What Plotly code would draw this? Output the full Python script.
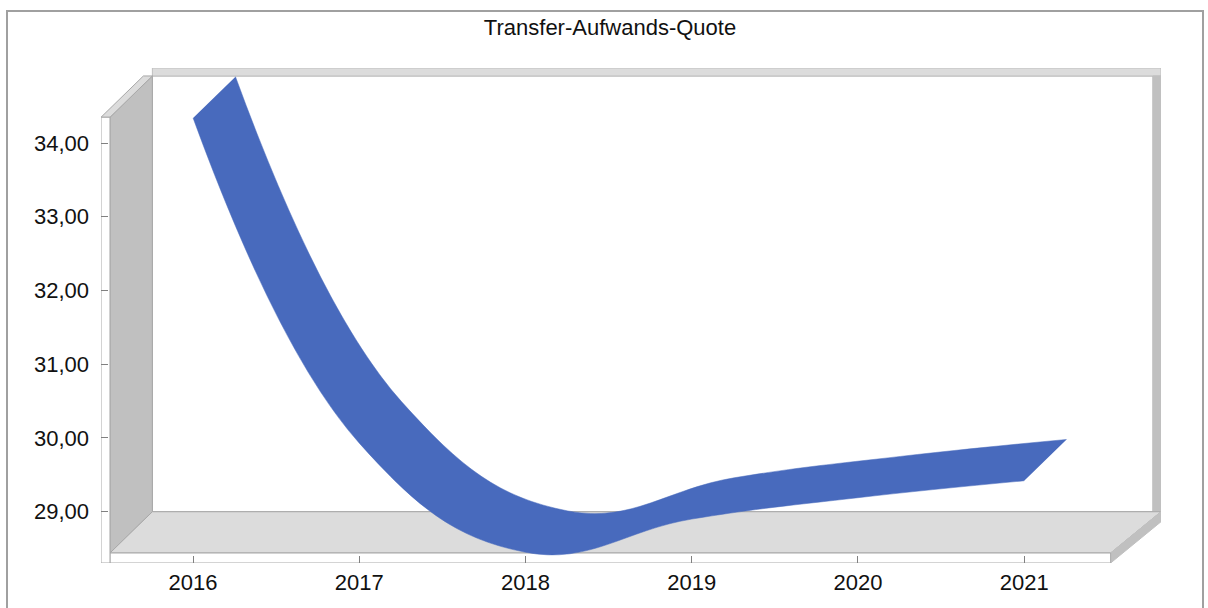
import plotly.graph_objects as go

# ---- data ----
years = [2016, 2017, 2018, 2019, 2020, 2021]
values = [34.34, 29.93, 28.45, 28.90, 29.19, 29.42]
y_ticks = [29, 30, 31, 32, 33, 34]
title_text = "Transfer-Aufwands-Quote"

# ---- pseudo-3D geometry (data units) ----
X0, X1 = 2015.5, 2021.52      # front box x extent
Y0, Y1 = 28.44, 34.35         # front box y extent
DX, DY = 0.255, 0.56          # depth offset
TX, TY = 0.054, 0.1355        # wall / floor thickness
RT, TB = 0.048, 0.108         # back wall thickness (right / top)

xr = [X0 - TX, X1 + DX + RT]
yr = [Y0 - TY, Y1 + DY + TB]

W, H = 1208, 608
# plot area in target-pixel coordinates
PL, PR, PT, PB = 101, 1161, 68, 563
L, T = PL, PT
R, B = W - PR, H - PB
PW, PH = PR - PL, PB - PT

BLUE = "#486ABD"
LINE = "#A8A8A8"
DARK = "#C0C0C0"
LIGHT = "#DCDCDC"


def poly(pts):
    return "M " + " L ".join(f"{x},{y}" for x, y in pts) + " Z"


shapes = []
# back wall
shapes.append(dict(type="rect", x0=X0 + DX, y0=Y0 + DY, x1=X1 + DX, y1=Y1 + DY,
                   fillcolor="white", line=dict(color=LINE, width=1)))
# back wall top strip
shapes.append(dict(type="rect", x0=X0 + DX, y0=Y1 + DY, x1=X1 + DX + RT, y1=Y1 + DY + TB,
                   fillcolor=LIGHT, line=dict(color=DARK, width=1)))
# back wall right strip
shapes.append(dict(type="rect", x0=X1 + DX, y0=Y0 + DY, x1=X1 + DX + RT, y1=Y1 + DY,
                   fillcolor=DARK, line=dict(color=DARK, width=1)))
# left wall inner face
shapes.append(dict(type="path", path=poly([(X0, Y0), (X0, Y1), (X0 + DX, Y1 + DY), (X0 + DX, Y0 + DY)]),
                   fillcolor=DARK, line=dict(color=LINE, width=1)))
# floor top face
shapes.append(dict(type="path", path=poly([(X0, Y0), (X0 + DX, Y0 + DY), (X1 + DX + RT, Y0 + DY), (X1, Y0)]),
                   fillcolor=LIGHT, line=dict(color=LINE, width=1)))
# floor right face
shapes.append(dict(type="path", path=poly([(X1, Y0 - TY), (X1, Y0), (X1 + DX + RT, Y0 + DY), (X1 + DX + RT, Y0 + DY - TY)]),
                   fillcolor=DARK, line=dict(color=DARK, width=1)))
# floor front face
shapes.append(dict(type="rect", x0=X0, y0=Y0 - TY, x1=X1, y1=Y0,
                   fillcolor="white", line=dict(color=LINE, width=1)))
# left wall top face
shapes.append(dict(type="path", path=poly([(X0 - TX, Y1), (X0, Y1), (X0 + DX, Y1 + DY), (X0 + DX - TX, Y1 + DY)]),
                   fillcolor=LIGHT, line=dict(color=LINE, width=1)))
# left wall front face
shapes.append(dict(type="rect", x0=X0 - TX, y0=Y0 - TY, x1=X0, y1=Y1,
                   fillcolor="white", line=dict(color=LINE, width=1)))
for s in shapes:
    s.update(xref="x", yref="y", layer="below")


# outer chart border (paper coords from target pixels)
def px2paper_x(px):
    return (px - PL) / PW


def px2paper_y(py):
    return 1 - (py - PT) / PH


shapes.append(dict(type="rect", xref="paper", yref="paper",
                   x0=px2paper_x(7), x1=px2paper_x(1203), y0=px2paper_y(630), y1=px2paper_y(11),
                   line=dict(color="#A0A0A0", width=2), fillcolor="rgba(0,0,0,0)", layer="below"))

fig = go.Figure()
fig.add_trace(go.Scatter(x=years, y=values, mode="lines",
                         line=dict(color=BLUE, width=0.5, shape="spline", smoothing=1.2),
                         hoverinfo="skip", showlegend=False, cliponaxis=False))
fig.add_trace(go.Scatter(x=[v + DX for v in years], y=[v + DY for v in values], mode="lines",
                         line=dict(color=BLUE, width=0.5, shape="spline", smoothing=1.2),
                         fill="tonexty", fillcolor=BLUE,
                         hoverinfo="skip", showlegend=False, cliponaxis=False))

font_family = "Liberation Sans, Arial, sans-serif"
TXT = "#111111"
fig.update_layout(
    width=W, height=H,
    margin=dict(l=L, r=R, t=T, b=B),
    paper_bgcolor="white", plot_bgcolor="white",
    separators=",.",
    shapes=shapes,
    title=dict(text=title_text, x=610 / W, xref="container", xanchor="center",
               y=1 - 27 / H, yref="container", yanchor="middle",
               font=dict(family=font_family, size=22, color=TXT)),
    xaxis=dict(range=xr, tickvals=years, ticks="inside", ticklen=7, tickcolor="#808080",
               showgrid=False, zeroline=False, showline=False, fixedrange=True,
               ticklabelstandoff=4,
               tickfont=dict(family=font_family, size=22, color=TXT)),
    yaxis=dict(range=yr, tickvals=y_ticks, tickformat=".2f", ticks="inside", ticklen=7,
               tickcolor="#808080", showgrid=False, zeroline=False, showline=False, fixedrange=True,
               ticklabelstandoff=11,
               tickfont=dict(family=font_family, size=22, color=TXT)),
)

fig.write_html("out.html",
               config=dict(displayModeBar=False, staticPlot=True),
               post_script="document.body.style.margin='0';document.body.style.overflow='hidden';")
